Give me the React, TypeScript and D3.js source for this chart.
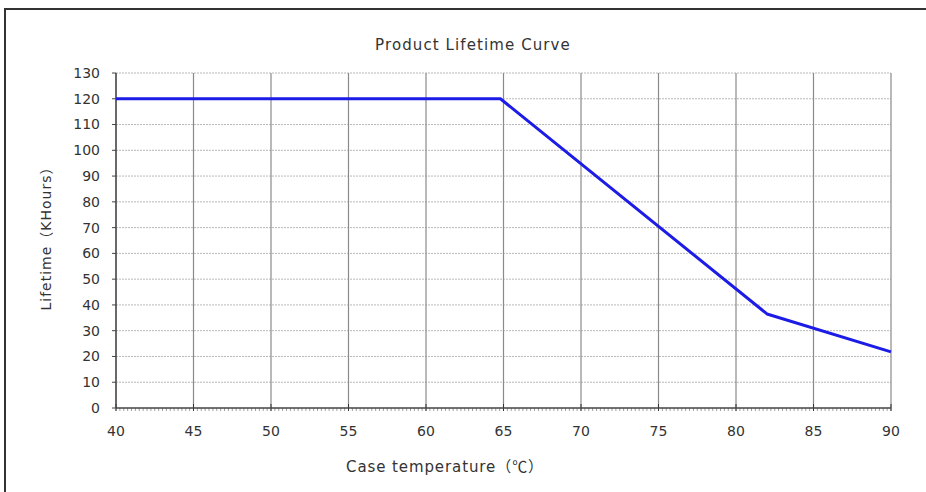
import React from "react";
import * as d3 from "d3";

const temps = [40, 64.8, 82, 90];
const lifetimes = [120, 120, 36.5, 21.8];
const xTicks = [40, 45, 50, 55, 60, 65, 70, 75, 80, 85, 90];
const yTicks = [0, 10, 20, 30, 40, 50, 60, 70, 80, 90, 100, 110, 120, 130];
const title = "Product Lifetime Curve";
const xTitle = "Case temperature（℃）";
const yTitle = "Lifetime（KHours）";

const font = "'DejaVu Sans', sans-serif";
const cjk = "'Noto Sans CJK SC', sans-serif";

function Mixed({ s }: { s: string }) {
  const parts = s.split(/([（）℃])/).filter((p) => p.length);
  return (
    <>
      {parts.map((p, i) =>
        /[（）℃]/.test(p) ? (
          <tspan key={i} fontFamily={cjk}>{p}</tspan>
        ) : (
          <tspan key={i}>{p}</tspan>
        )
      )}
    </>
  );
}

export default function App() {
  const W = 926, H = 492;
  const left = 116, right = 891, top = 73, bottom = 408;
  const x = d3.scaleLinear().domain([40, 90]).range([left, right]);
  const y = d3.scaleLinear().domain([0, 130]).range([bottom, top]);
  const line = d3.line<number>().x((d, i) => x(temps[i])).y((d) => y(d));
  const minor = d3.range(40, 90.001, 0.25);
  return (
    <svg width={W} height={H} style={{ position: "absolute", left: 0, top: 0, background: "#fff" }}>
      <rect x={0} y={0} width={W} height={H} fill="#fff" />
      <path d={`M5,${H} L5,9 L${W},9`} fill="none" stroke="#333" strokeWidth={2} />
      {yTicks.filter((t) => t > 0).map((t) => (
        <line key={"hy" + t} x1={left} x2={right} y1={y(t)} y2={y(t)} stroke="#b8b8b8" strokeWidth={1} strokeDasharray="2,1" />
      ))}
      {xTicks.filter((t) => t > 40).map((t) => (
        <line key={"vx" + t} x1={x(t)} x2={x(t)} y1={top} y2={bottom} stroke="#8a8a8a" strokeWidth={1.2} />
      ))}
      {minor.map((t, i) => (
        <line key={"mx" + i} x1={x(t)} x2={x(t)} y1={bottom} y2={bottom + 3} stroke="#888" strokeWidth={0.8} />
      ))}
      {xTicks.map((t) => (
        <line key={"tx" + t} x1={x(t)} x2={x(t)} y1={bottom - 4} y2={bottom + 3} stroke="#333" strokeWidth={1} />
      ))}
      {yTicks.map((t) => (
        <line key={"ty" + t} x1={left - 4} x2={left} y1={y(t)} y2={y(t)} stroke="#444" strokeWidth={1} />
      ))}
      <line x1={left} x2={left} y1={top} y2={bottom} stroke="#444" strokeWidth={1.6} />
      <line x1={left} x2={right} y1={bottom} y2={bottom} stroke="#444" strokeWidth={1.6} />
      <path d={line(lifetimes) || ""} fill="none" stroke="#1c1ce6" strokeWidth={3} strokeLinejoin="round" />
      {yTicks.map((t) => (
        <text key={"ly" + t} x={100} y={y(t)} dy="0.35em" textAnchor="end" fontSize={14} fill="#333" fontFamily={font}>{t}</text>
      ))}
      {xTicks.map((t) => (
        <text key={"lx" + t} x={x(t)} y={431} dy="0.35em" textAnchor="middle" fontSize={14} fill="#333" fontFamily={font}>{t}</text>
      ))}
      <text x={473} y={45} dy="0.35em" textAnchor="middle" fontSize={15} letterSpacing={1.1} fill="#333" fontFamily={font}>{title}</text>
      <text x={445} y={467} dy="0.35em" textAnchor="middle" fontSize={15} letterSpacing={0.9} fill="#333" fontFamily={font}><Mixed s={xTitle} /></text>
      <text transform={`translate(46,235) rotate(-90)`} dy="0.35em" textAnchor="middle" fontSize={14} letterSpacing={1} fill="#333" fontFamily={font}><Mixed s={yTitle} /></text>
    </svg>
  );
}
